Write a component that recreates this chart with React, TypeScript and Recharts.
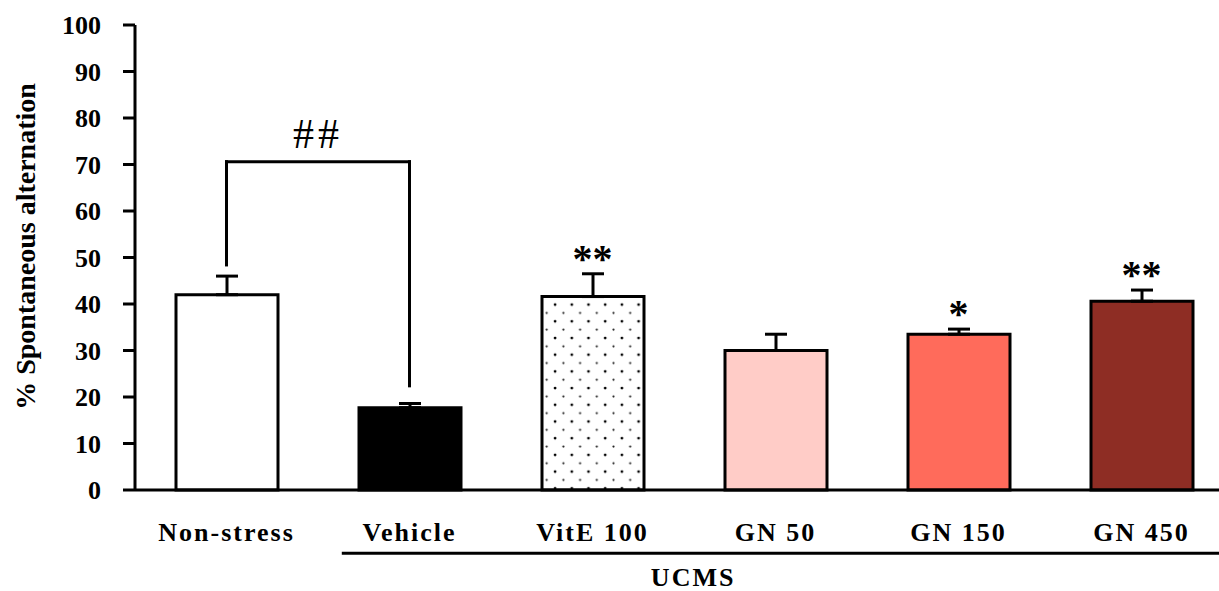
import { BarChart, Bar, Cell, XAxis, YAxis, ErrorBar, ReferenceLine, ReferenceDot } from 'recharts'

const groups = ['Non-stress', 'Vehicle', 'VitE 100', 'GN 50', 'GN 150', 'GN 450']
const means = [42.0, 17.7, 41.6, 30.0, 33.5, 40.6]
const sems = [4.0, 0.9, 4.9, 3.5, 1.1, 2.4]
const marks = ['', '', '**', '', '*', '**']
const yTicks = [0, 10, 20, 30, 40, 50, 60, 70, 80, 90, 100]

// ## bracket between Non-stress and Vehicle
const bracketLeft = 48.4
const bracketRight = 22.4
const bracketTop = 70.6

// UCMS group line, in band units of the hidden numeric axis
const ucmsStart = 1.13
const ucmsEnd = 6
const ucmsLevel = -13.6
const ucmsLabelX = 3.05
const ucmsLabelY = -18.7

const FILLS = ['#FFFFFF', '#000000', 'url(#dots)', '#FFCCC7', '#FF6B5B', '#8E2D24']
const FONT = '"Liberation Serif", "Times New Roman", serif'

// slot = centre of each category band, used by the hidden numeric axis
const data = groups.map((name, i) => ({ name, slot: i + 0.5, mean: means[i], err: [0, sems[i]] }))

function YLabel(props: any) {
  const vb = props.viewBox
  const x = vb.x + 35
  const y = vb.y + vb.height / 2 - 11
  return (
    <text
      x={x}
      y={y}
      transform={`rotate(-90, ${x}, ${y})`}
      textAnchor="middle"
      fontFamily={FONT}
      fontSize={28}
      fontWeight="bold"
      fill="#000"
    >
      % Spontaneous alternation
    </text>
  )
}

export default function App() {
  const line = { stroke: '#000', strokeWidth: 3 }
  return (
    <div style={{ position: 'absolute', left: 0, top: 0, width: 1219, height: 591, overflow: 'hidden', background: '#fff' }}>
      <BarChart width={1245} height={591} data={data} margin={{ top: 25, right: 12, bottom: 0, left: 0 }}>
        <defs>
          <pattern id="dots" width={16.7} height={16.7} patternUnits="userSpaceOnUse">
            <rect width={16.7} height={16.7} fill="#fff" />
            <circle cx={4} cy={4} r={1.4} fill="#000" />
            <circle cx={12.3} cy={12.3} r={1.1} fill="#222" />
          </pattern>
        </defs>
        <XAxis
          dataKey="name"
          interval={0}
          tickLine={false}
          tickSize={0}
          tickMargin={33}
          height={101}
          axisLine={line}
          tick={{ fill: '#000', fontSize: 26, fontWeight: 'bold', fontFamily: FONT, letterSpacing: 2 }}
        />
        <XAxis xAxisId="g" dataKey="slot" type="number" scale="linear" domain={[0, 6]} allowDataOverflow hide />
        <YAxis
          domain={[0, 100]}
          ticks={yTicks}
          interval={0}
          width={135}
          tickSize={12}
          tickMargin={22}
          axisLine={line}
          tickLine={line}
          tick={{ fill: '#000', fontSize: 26, fontWeight: 'bold', fontFamily: FONT }}
          label={{ content: YLabel }}
        />
        <Bar dataKey="mean" barSize={102} isAnimationActive={false}>
          {data.map((d, i) => (
            <Cell key={d.name} fill={FILLS[i]} stroke="#000" strokeWidth={3} />
          ))}
          <ErrorBar dataKey="err" direction="y" width={11} stroke="#000" strokeWidth={3} isAnimationActive={false} />
        </Bar>
        <ReferenceLine
          segment={[{ x: groups[0], y: bracketLeft }, { x: groups[0], y: bracketTop }]}
          stroke="#000"
          strokeWidth={3}
          strokeLinecap="square"
        />
        <ReferenceLine
          segment={[{ x: groups[1], y: bracketRight }, { x: groups[1], y: bracketTop }]}
          stroke="#000"
          strokeWidth={3}
          strokeLinecap="square"
        />
        <ReferenceLine
          segment={[{ x: groups[0], y: bracketTop }, { x: groups[1], y: bracketTop }]}
          stroke="#000"
          strokeWidth={3}
          strokeLinecap="square"
          label={{ value: '##', position: 'top', offset: 14, fontSize: 42, fill: '#000', fontFamily: FONT, letterSpacing: 4 }}
        />
        {groups.map((g, i) =>
          marks[i] ? (
            <ReferenceDot
              key={g}
              x={g}
              y={means[i] + sems[i]}
              r={0}
              stroke="none"
              label={{ value: marks[i], position: 'top', offset: 2, fontSize: 40, fontWeight: 'bold', fill: '#000', fontFamily: FONT }}
            />
          ) : null
        )}
        <ReferenceLine
          xAxisId="g"
          segment={[{ x: ucmsStart, y: ucmsLevel }, { x: ucmsEnd, y: ucmsLevel }]}
          ifOverflow="visible"
          stroke="#000"
          strokeWidth={3}
        />
        <ReferenceDot
          xAxisId="g"
          x={ucmsLabelX}
          y={ucmsLabelY}
          r={0}
          stroke="none"
          ifOverflow="visible"
          label={{ value: 'UCMS', position: 'center', fontSize: 26, fontWeight: 'bold', fill: '#000', fontFamily: FONT, letterSpacing: 2 }}
        />
      </BarChart>
    </div>
  )
}
